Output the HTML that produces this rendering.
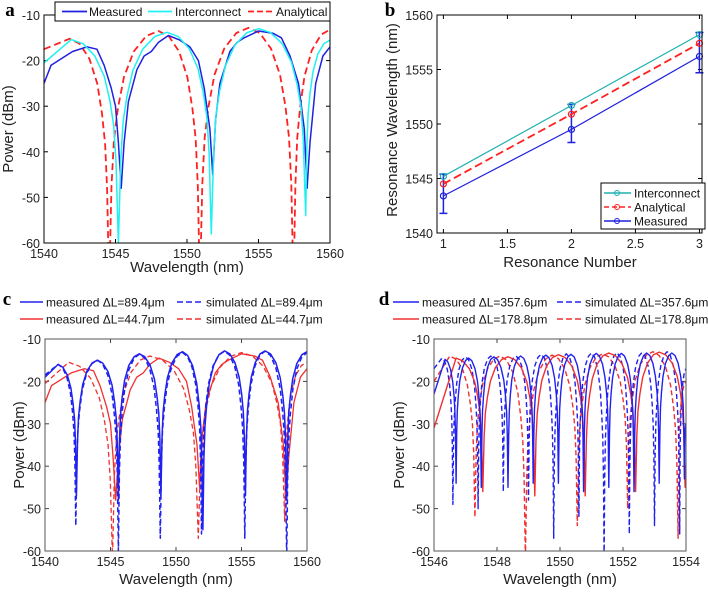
<!DOCTYPE html>
<html><head><meta charset="utf-8"><style>
html,body{margin:0;padding:0;background:#fff;}
svg{display:block;font-family:"Liberation Sans",sans-serif;}
.tk{font-size:12.5px;fill:#222;}
.lab{font-size:15px;fill:#222;}
.pl{font-family:"Liberation Serif",serif;font-weight:bold;font-size:19px;fill:#000;}
.lg{font-size:12px;fill:#111;}
</style></head><body>
<svg id="fig" width="708" height="592" viewBox="0 0 708 592">
<defs>
<clipPath id="ca"><rect x="44" y="15" width="286" height="228"/></clipPath>
<clipPath id="cc"><rect x="45" y="339" width="262" height="212"/></clipPath>
<clipPath id="cd"><rect x="434" y="339" width="252" height="212"/></clipPath>
</defs>
<g id="pa"></g>
<g id="pb"></g>
<g id="pc"></g>
<g id="pd"></g>
</svg>
<script>
// ---------- Panel a data ----------
const aMeasX=[1540,1540.5,1541,1541.5,1542,1543,1543.7,1544.2,1544.7,1545,1545.2,1545.4,1545.6,1545.9,1546.5,1547,1547.5,1548,1548.7,1549.5,1550.2,1550.8,1551.2,1551.6,1551.8,1552,1552.3,1553,1553.5,1554,1555,1556,1556.6,1557.2,1557.8,1558.2,1558.4,1558.6,1559,1559.5,1560];
const aMeasY=[-25,-21,-20,-19,-18,-17,-17.5,-21,-26,-30,-38,-48,-38,-29,-22,-19,-18,-16,-14.5,-15.5,-17,-20,-26,-35,-45,-33,-25,-18,-16,-15,-13.5,-14,-15,-19,-25,-35,-48,-38,-25,-19,-17];
const aIntPeakX=[1540,1541.9,1548.6,1555,1560];
const aIntPeakY=[-20.5,-15.4,-13.8,-13,-15.5];
const aIntDipX=[1545.2,1551.7,1558.3];
const aIntDipY=[-60,-58,-54];
const aAnaPeakX=[1540,1541.8,1548,1554.3,1560];
const aAnaPeakY=[-17.5,-15.2,-13.5,-12.8,-13.2];
const aAnaDipX=[1544.55,1550.9,1557.45];
const aAnaDipY=[-70,-70,-70];
// ---------- Panel b data ----------
const bCats=[1,2,3];
const bInter=[1545.2,1551.7,1558.2];
const bAnal=[1544.5,1550.9,1557.4];
const bMeas=[1543.4,1549.5,1556.2];
const bErrLow=[1.6,1.2,1.5];
const bErrHigh=[2.0,2.3,2.2];
// ---------- Panel c data ----------
const cBlueMPeakX=[1540,1541,1544,1547.2,1550.5,1553.7,1556.8,1560];
const cBlueMPeakY=[-19,-16,-15,-13.5,-13,-12.8,-12.8,-13];
const cBlueMDipX=[1542.4,1545.6,1548.85,1552.05,1555.3,1558.45];
const cBlueMDipY=[-47,-48,-47,-55,-47,-48];
const cBlueSPeakX=[1540,1541,1544,1547.2,1550.5,1553.7,1556.8,1560];
const cBlueSPeakY=[-18.5,-16,-15,-13.6,-13.2,-12.9,-12.9,-13.2];
const cBlueSDipX=[1542.35,1545.6,1548.8,1551.95,1555.25,1558.45];
const cBlueSDipY=[-54,-60,-57,-56,-57,-62];
const cRedSPeakX=[1540,1541.8,1548,1555,1560];
const cRedSPeakY=[-20.5,-15.5,-14,-13.2,-15.5];
const cRedSDipX=[1545.15,1551.7,1558.3];
const cRedSDipY=[-62,-57,-53];
// ---------- Panel d data ----------
const dBlueMPeakX=[1546,1546.35,1547.1,1547.9,1548.75,1549.55,1550.35,1551.15,1551.95,1552.75,1553.55,1554];
const dBlueMPeakY=[-23,-14.8,-14.5,-14.2,-14,-13.8,-13.6,-13.4,-13.4,-13.3,-13.3,-30];
const dBlueMDipX=[1546.7,1547.5,1548.35,1549.15,1549.95,1550.75,1551.55,1552.35,1553.15,1553.95];
const dBlueMDipY=[-44,-45,-45,-44,-44,-46,-45,-46,-44,-43];
const dBlueSPeakX=[1546,1546.25,1547,1547.8,1548.6,1549.4,1550.2,1551,1551.8,1552.6,1553.4,1554];
const dBlueSPeakY=[-17,-14.5,-14.2,-14,-14,-13.6,-13.5,-13.3,-13.2,-13.2,-13,-17];
const dBlueSDipX=[1546.6,1547.4,1548.2,1549.0,1549.8,1550.6,1551.4,1552.2,1553.0,1553.8];
const dBlueSDipY=[-49,-50,-46,-48,-57,-52,-62,-56,-54,-56];
const dRedMPeakX=[1546,1546.7,1548.35,1549.95,1551.55,1553.15,1554];
const dRedMPeakY=[-31,-14.5,-14.2,-13.7,-13.3,-13.1,-40];
const dRedMDipX=[1547.55,1549.2,1550.8,1552.4,1553.97];
const dRedMDipY=[-46,-47,-47,-46,-45];
const dRedSPeakX=[1546,1546.5,1548.1,1549.75,1551.35,1552.95,1554];
const dRedSPeakY=[-20,-14,-14,-13.8,-13.5,-13,-20];
const dRedSDipX=[1547.3,1548.9,1550.55,1552.15,1553.75];
const dRedSDipY=[-52,-62,-54,-50,-57];

const NS="http://www.w3.org/2000/svg";
function mk(parent,tag,attrs,text){const e=document.createElementNS(NS,tag);for(const k in attrs)e.setAttribute(k,attrs[k]);if(text!==undefined)e.textContent=text;parent.appendChild(e);return e;}
function lin(d0,d1,r0,r1){return v=>r0+(v-d0)*(r1-r0)/(d1-d0);}
const TS=[0,0.25,0.5,0.7,0.82,0.9,0.95,1], FS=[0,0.02,0.08,0.18,0.3,0.42,0.6,1];
function resonant(px,py,dx,dy){
  const pts=[];px.forEach((x,i)=>pts.push({x,y:py[i],t:'p'}));dx.forEach((x,i)=>pts.push({x,y:dy[i],t:'d'}));
  pts.sort((a,b)=>a.x-b.x);
  const out=[[pts[0].x,pts[0].y]];
  for(let i=1;i<pts.length;i++){const a=pts[i-1],b=pts[i];
    if(a.t!==b.t){const P=a.t==='p'?a:b,D=a.t==='p'?b:a;
      const seg=TS.map((t,k)=>[P.x+(D.x-P.x)*t,P.y+(D.y-P.y)*FS[k]]);
      if(a.t==='d')seg.reverse();
      for(let k=1;k<seg.length;k++)out.push(seg[k]);
    } else out.push([b.x,b.y]);}
  return out;}
function pathD(pts,sx,sy){return pts.map((p,i)=>(i?'L':'M')+sx(p[0]).toFixed(1)+','+sy(p[1]).toFixed(1)).join('');}
function zip(xs,ys){return xs.map((x,i)=>[x,ys[i]]);}

function axes(g,box,xt,yt,sx,sy,col,xfmt){
  mk(g,'rect',{x:box[0],y:box[1],width:box[2]-box[0],height:box[3]-box[1],fill:'#fff',stroke:'none'});
  xt.forEach(v=>{const x=sx(v);
    mk(g,'line',{x1:x,y1:box[3],x2:x,y2:box[3]-4,stroke:col,'stroke-width':1});
    mk(g,'line',{x1:x,y1:box[1],x2:x,y2:box[1]+4,stroke:col,'stroke-width':1});
    const t=mk(g,'text',{x:x,y:box[3]+15,'text-anchor':'middle',class:'tk'},xfmt?xfmt(v):String(v));
    });
  yt.forEach(v=>{const y=sy(v);
    mk(g,'line',{x1:box[0],y1:y,x2:box[0]+4,y2:y,stroke:col,'stroke-width':1});
    mk(g,'line',{x1:box[2],y1:y,x2:box[2]-4,y2:y,stroke:col,'stroke-width':1});
    const t=mk(g,'text',{x:box[0]-4,y:y+5,'text-anchor':'end',class:'tk'},String(v));
    });
}
function frame(g,box,col){const r=mk(g,'rect',{x:box[0],y:box[1],width:box[2]-box[0],height:box[3]-box[1],fill:'none',stroke:col,'stroke-width':1});
  }
function series(g,pts,sx,sy,color,dash,w,clip,name){
  const p=mk(g,'path',{d:pathD(pts,sx,sy),fill:'none',stroke:color,'stroke-width':w,'stroke-dasharray':dash||'none','clip-path':'url(#'+clip+')','stroke-linejoin':'round'});
  }
function label(g,x,y,txt,cls,rot,name){const a={x:x,y:y,'text-anchor':'middle',class:cls};if(rot)a.transform='rotate(-90 '+x+' '+y+')';
  const t=mk(g,'text',a,txt);return t;}

// ===== Panel a =====
(function(){const g=document.getElementById('pa');const box=[44,15,330,243];
 const sx=lin(1540,1560,44,330),sy=lin(-10,-60,15,243);
 axes(g,box,[1540,1545,1550,1555,1560],[-10,-20,-30,-40,-50,-60],sx,sy,'#000');
 series(g,resonant(aAnaPeakX,aAnaPeakY,aAnaDipX,aAnaDipY),sx,sy,'#ff2020','7,4',1.8,'ca','analytical-line');
 series(g,zip(aMeasX,aMeasY),sx,sy,'#2020e0','',1.5,'ca','measured-line');
 series(g,resonant(aIntPeakX,aIntPeakY,aIntDipX,aIntDipY),sx,sy,'#20f0f0','',1.5,'ca','interconnect-line');
 frame(g,box,'#000');
 label(g,187,272,'Wavelength (nm)','lab',false,'x-axis-title');
 label(g,13,129,'Power (dBm)','lab',true,'y-axis-title');
 label(g,10,16,'a','pl',false,'panel-label-a');
 const lg=mk(g,'g',{});
 mk(lg,'rect',{x:55,y:2,width:275,height:19,fill:'#fff',stroke:'#000','stroke-width':1});
 mk(lg,'line',{x1:62,y1:11.5,x2:87,y2:11.5,stroke:'#2020e0','stroke-width':1.8});
 mk(lg,'text',{x:89,y:16,class:'lg'},'Measured');
 mk(lg,'line',{x1:148,y1:11.5,x2:172,y2:11.5,stroke:'#20f0f0','stroke-width':1.8});
 mk(lg,'text',{x:175,y:16,class:'lg'},'Interconnect');
 mk(lg,'line',{x1:248,y1:11.5,x2:273,y2:11.5,stroke:'#ff2020','stroke-width':1.8,'stroke-dasharray':'6,3'});
 mk(lg,'text',{x:276,y:16,class:'lg'},'Analytical');
})();

// ===== Panel b =====
(function(){const g=document.getElementById('pb');const box=[437,15,702,233];
 const sx=lin(0.95,3.02,437,702),sy=lin(1540,1560,233,15);
 axes(g,box,[1,1.5,2,2.5,3],[1540,1545,1550,1555,1560],sx,sy,'#000');
 function ser(vals,color,dash,name){
   const p=mk(g,'path',{d:pathD(zip(bCats,vals),sx,sy),fill:'none',stroke:color,'stroke-width':dash?1.8:1.2,'stroke-dasharray':dash||'none'});
   
   vals.forEach((v,i)=>{const c=mk(g,'circle',{cx:sx(bCats[i]),cy:sy(v),r:3,fill:'none',stroke:color,'stroke-width':1.2});
     });}
 bMeas.forEach((v,i)=>{const x=sx(bCats[i]),y1=sy(v-bErrLow[i]),y2=sy(v+bErrHigh[i]);
   const e=mk(g,'path',{d:'M'+x+','+y1+'L'+x+','+y2+'M'+(x-4)+','+y1+'L'+(x+4)+','+y1+'M'+(x-4)+','+y2+'L'+(x+4)+','+y2,stroke:'#2020e0','stroke-width':1.5,fill:'none'});
   });
 ser(bInter,'#20b0b0','','interconnect-line');
 ser(bAnal,'#ff2020','8,4','analytical-line');
 ser(bMeas,'#2020e0','','measured-line');
 frame(g,box,'#000');
 label(g,570,267,'Resonance Number','lab',false,'x-axis-title');
 label(g,397,120,'Resonance Wavelength (nm)','lab',true,'y-axis-title');
 label(g,390,16,'b','pl',false,'panel-label-b');
 const lg=mk(g,'g',{});
 mk(lg,'rect',{x:601,y:183,width:104,height:46,fill:'#fff',stroke:'#000','stroke-width':1});
 [['Interconnect','#20b0b0',''],['Analytical','#ff2020','5,3'],['Measured','#2020e0','']].forEach((e,i)=>{const y=193+i*14;
   mk(lg,'line',{x1:604,y1:y,x2:631,y2:y,stroke:e[1],'stroke-width':1.4,'stroke-dasharray':e[2]||'none'});
   mk(lg,'circle',{cx:617,cy:y,r:2.5,fill:'none',stroke:e[1]});
   mk(lg,'text',{x:634,y:y+4.5,class:'lg','font-size':'11.5'},e[0]);});
})();

function legend4(g,x0,entries){
 const lg=mk(g,'g',{});
 entries.forEach(e=>{mk(lg,'line',{x1:e[0],y1:e[1],x2:e[2],y2:e[1],stroke:e[3],'stroke-width':1.6,'stroke-dasharray':e[4]||'none'});
   mk(lg,'text',{x:e[2]+3,y:e[1]+4.5,class:'lg'},e[5]);});}

// ===== Panel c =====
(function(){const g=document.getElementById('pc');const box=[45,339,307,551];
 const sx=lin(1540,1560,45,307),sy=lin(-10,-60,339,551);
 axes(g,box,[1540,1545,1550,1555,1560],[-10,-20,-30,-40,-50,-60],sx,sy,'#444');
 series(g,resonant(cRedSPeakX,cRedSPeakY,cRedSDipX,cRedSDipY),sx,sy,'#f03030','5,3',1.3,'cc','simulated-44-7-line');
 series(g,zip(aMeasX,aMeasY),sx,sy,'#f03030','',1.3,'cc','measured-44-7-line');
 series(g,resonant(cBlueSPeakX,cBlueSPeakY,cBlueSDipX,cBlueSDipY),sx,sy,'#2020f0','5,3',1.5,'cc','simulated-89-4-line');
 series(g,resonant(cBlueMPeakX,cBlueMPeakY,cBlueMDipX,cBlueMDipY),sx,sy,'#2020f0','',1.5,'cc','measured-89-4-line');
 frame(g,box,'#555');
 label(g,176,584,'Wavelength (nm)','lab',false,'x-axis-title');
 label(g,24,445,'Power (dBm)','lab',true,'y-axis-title');
 label(g,7,305,'c','pl',false,'panel-label-c');
 legend4(g,0,[[20,302,43,'#2020f0','','measured ΔL=89.4μm'],[177,302,203,'#2020f0','6,3','simulated ΔL=89.4μm'],
   [20,319,43,'#f03030','','measured ΔL=44.7μm'],[177,319,203,'#f03030','6,3','simulated ΔL=44.7μm']]);
})();

// ===== Panel d =====
(function(){const g=document.getElementById('pd');const box=[434,339,686,551];
 const sx=lin(1546,1554,434,686),sy=lin(-10,-60,339,551);
 axes(g,box,[1546,1548,1550,1552,1554],[-10,-20,-30,-40,-50,-60],sx,sy,'#444');
 series(g,resonant(dRedSPeakX,dRedSPeakY,dRedSDipX,dRedSDipY),sx,sy,'#f03030','5,3',1.4,'cd','simulated-178-8-line');
 series(g,resonant(dBlueSPeakX,dBlueSPeakY,dBlueSDipX,dBlueSDipY),sx,sy,'#2020f0','5,3',1.4,'cd','simulated-357-6-line');
 series(g,resonant(dRedMPeakX,dRedMPeakY,dRedMDipX,dRedMDipY),sx,sy,'#f03030','',1.4,'cd','measured-178-8-line');
 series(g,resonant(dBlueMPeakX,dBlueMPeakY,dBlueMDipX,dBlueMDipY),sx,sy,'#2020f0','',1.4,'cd','measured-357-6-line');
 frame(g,box,'#555');
 label(g,560,584,'Wavelength (nm)','lab',false,'x-axis-title');
 label(g,404,445,'Power (dBm)','lab',true,'y-axis-title');
 label(g,384,305,'d','pl',false,'panel-label-d');
 legend4(g,0,[[393,302,419,'#2020f0','','measured ΔL=357.6μm'],[557,302,582,'#2020f0','6,3','simulated ΔL=357.6μm'],
   [393,319,419,'#f03030','','measured ΔL=178.8μm'],[557,319,582,'#f03030','6,3','simulated ΔL=178.8μm']]);
})();
</script>
</body></html>
